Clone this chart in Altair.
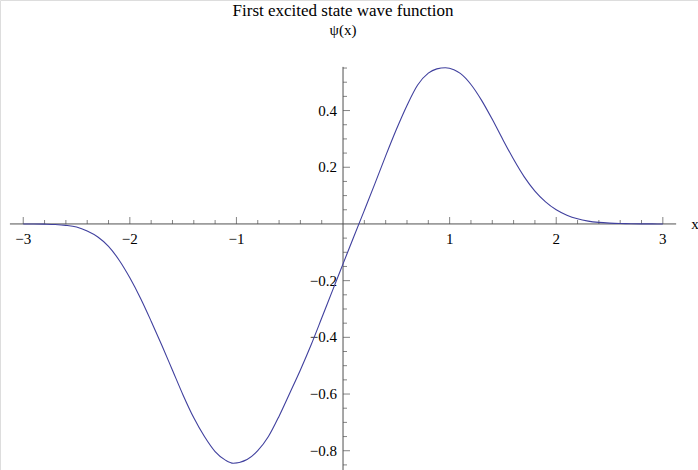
import altair as alt
import pandas as pd

# Sampled wave function psi(x)
x_vals = [-3.0, -2.9, -2.8, -2.7, -2.6, -2.5, -2.4, -2.3, -2.2, -2.1,
          -2.0, -1.9, -1.8, -1.7, -1.6, -1.5, -1.4, -1.3, -1.2, -1.1,
          -1.03, -0.9, -0.8, -0.7, -0.6, -0.5, -0.4, -0.3, -0.2, -0.1,
          0.0, 0.1, 0.2, 0.3, 0.4, 0.5, 0.6, 0.7, 0.8, 0.88,
          0.96, 1.04, 1.1, 1.2, 1.3, 1.4, 1.5, 1.6, 1.7, 1.8, 1.9,
          2.0, 2.1, 2.2, 2.3, 2.4, 2.5, 2.6, 2.7, 2.8, 2.9, 3.0]
psi_vals = [0.0000, -0.0002, -0.0008, -0.0020, -0.0050, -0.0110, -0.0250, -0.0460, -0.0790, -0.1280,
            -0.1900, -0.2620, -0.3430, -0.4280, -0.5160, -0.6040, -0.6840, -0.7500, -0.8030, -0.8340,
            -0.8440, -0.8310, -0.8000, -0.7500, -0.6780, -0.5970, -0.5150, -0.4270, -0.3320, -0.2360,
            -0.1410, -0.0460, 0.0480, 0.1430, 0.2400, 0.3330, 0.4180, 0.4900, 0.5320, 0.5470,
            0.5510, 0.5440, 0.5310, 0.4920, 0.4360, 0.3690, 0.2970, 0.2280, 0.1660, 0.1160, 0.0780,
            0.0500, 0.0310, 0.0180, 0.0100, 0.0055, 0.0030, 0.0015, 0.0007, 0.0003, 0.0001, 0.0000]

# Axis ticks and labels
x_major = [-3, -2, -1, 1, 2, 3]
x_major_labels = ["\u22123", "\u22122", "\u22121", "1", "2", "3"]
y_major = [-0.8, -0.6, -0.4, -0.2, 0.2, 0.4]
y_major_labels = ["\u22120.8", "\u22120.6", "\u22120.4", "\u22120.2", "0.2", "0.4"]

x_minor = [round(-3 + 0.2 * i, 2) for i in range(31)]
x_minor = [v for v in x_minor if abs(v - round(v)) > 1e-9]
y_minor = [round(-0.85 + 0.05 * i, 2) for i in range(29)]
y_minor = [v for v in y_minor if abs(v * 5 - round(v * 5)) > 1e-9]

# Axis line extents (data units)
X_AXIS_START, X_AXIS_END = -3.125, 3.125
Y_AXIS_BOTTOM, Y_AXIS_TOP = -0.87, 0.554

LINE_COLOR = "#40409e"
AXIS_COLOR = "#505050"
FONT = "Liberation Serif"

xs = alt.Scale(domain=[-3.218, 3.330], nice=False, zero=False)
ys = alt.Scale(domain=[-0.868, 0.790], nice=False, zero=False)

curve_df = pd.DataFrame({"x": x_vals, "psi": psi_vals})

curve = alt.Chart(curve_df).mark_line(
    color=LINE_COLOR, strokeWidth=1.1, interpolate="monotone"
).encode(
    x=alt.X("x:Q", scale=xs, axis=None),
    y=alt.Y("psi:Q", scale=ys, axis=None),
)

x_axis_line = alt.Chart(pd.DataFrame({"a": [X_AXIS_START], "b": [X_AXIS_END], "y": [0]})).mark_rule(
    color=AXIS_COLOR, strokeWidth=1
).encode(
    x=alt.X("a:Q", scale=xs, axis=None), x2="b:Q", y=alt.Y("y:Q", scale=ys, axis=None)
)

y_axis_line = alt.Chart(pd.DataFrame({"x": [0], "a": [Y_AXIS_BOTTOM], "b": [Y_AXIS_TOP]})).mark_rule(
    color=AXIS_COLOR, strokeWidth=1
).encode(
    x=alt.X("x:Q", scale=xs, axis=None), y=alt.Y("a:Q", scale=ys, axis=None), y2="b:Q"
)

xmaj_df = pd.DataFrame({"v": x_major, "label": x_major_labels, "zero": 0})
xmin_df = pd.DataFrame({"v": x_minor, "zero": 0})
ymaj_df = pd.DataFrame({"v": y_major, "label": y_major_labels, "zero": 0})
ymin_df = pd.DataFrame({"v": y_minor, "zero": 0})

x_major_ticks = alt.Chart(xmaj_df).mark_tick(
    orient="vertical", size=7, thickness=1, yOffset=-3.5, color=AXIS_COLOR
).encode(x=alt.X("v:Q", scale=xs, axis=None), y=alt.Y("zero:Q", scale=ys, axis=None))

x_minor_ticks = alt.Chart(xmin_df).mark_tick(
    orient="vertical", size=4, thickness=1, yOffset=-2, color=AXIS_COLOR
).encode(x=alt.X("v:Q", scale=xs, axis=None), y=alt.Y("zero:Q", scale=ys, axis=None))

y_major_ticks = alt.Chart(ymaj_df).mark_tick(
    orient="horizontal", size=7, thickness=1, xOffset=3.5, color=AXIS_COLOR
).encode(y=alt.Y("v:Q", scale=ys, axis=None), x=alt.X("zero:Q", scale=xs, axis=None))

y_minor_ticks = alt.Chart(ymin_df).mark_tick(
    orient="horizontal", size=4, thickness=1, xOffset=2, color=AXIS_COLOR
).encode(y=alt.Y("v:Q", scale=ys, axis=None), x=alt.X("zero:Q", scale=xs, axis=None))

x_labels = alt.Chart(xmaj_df).mark_text(
    font=FONT, fontSize=15, color="black", baseline="alphabetic", align="center", dy=20
).encode(x=alt.X("v:Q", scale=xs, axis=None), y=alt.Y("zero:Q", scale=ys, axis=None), text="label:N")

y_labels = alt.Chart(ymaj_df).mark_text(
    font=FONT, fontSize=15, color="black", baseline="middle", align="right", dx=-6
).encode(y=alt.Y("v:Q", scale=ys, axis=None), x=alt.X("zero:Q", scale=xs, axis=None), text="label:N")

x_name = alt.Chart(pd.DataFrame({"x": [X_AXIS_END], "y": [0], "t": ["x"]})).mark_text(
    font=FONT, fontSize=15, color="black", baseline="middle", align="left", dx=15
).encode(x=alt.X("x:Q", scale=xs, axis=None), y=alt.Y("y:Q", scale=ys, axis=None), text="t:N")

y_name = alt.Chart(pd.DataFrame({"x": [0], "t": ["\u03c8(x)"]})).mark_text(
    font=FONT, fontSize=15, color="black", baseline="alphabetic", align="center", y=35
).encode(x=alt.X("x:Q", scale=xs, axis=None), text="t:N")

title = alt.Chart(pd.DataFrame({"x": [0], "t": ["First excited state wave function"]})).mark_text(
    font=FONT, fontSize=17, color="black", baseline="alphabetic", align="center", y=16
).encode(x=alt.X("x:Q", scale=xs, axis=None), text="t:N")

chart = alt.layer(
    x_axis_line, y_axis_line, x_minor_ticks, x_major_ticks, y_minor_ticks, y_major_ticks,
    x_labels, y_labels, x_name, y_name, title, curve
).properties(
    width=698, height=470,
    autosize=alt.AutoSizeParams(type="none"),
    padding=0,
).configure_view(stroke=None).configure(background="white")

chart.save("out.html", embed_options={"renderer": "svg", "actions": False})
